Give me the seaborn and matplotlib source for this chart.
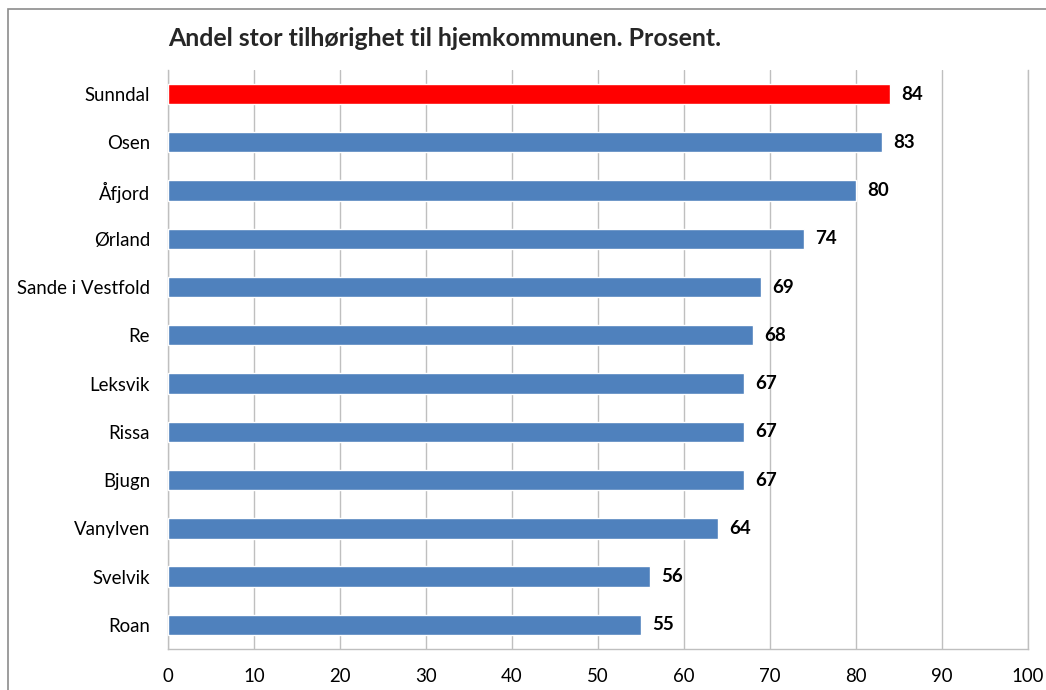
import matplotlib
matplotlib.use("Agg")
import matplotlib.pyplot as plt
import seaborn as sns
import pandas as pd
from matplotlib.patches import Rectangle

kommuner = ["Sunndal", "Osen", "Åfjord", "Ørland", "Sande i Vestfold", "Re",
            "Leksvik", "Rissa", "Bjugn", "Vanylven", "Svelvik", "Roan"]
andel = [84, 83, 80, 74, 69, 68, 67, 67, 67, 64, 56, 55]
farger = ["#FF0000"] + ["#4F81BD"] * (len(kommuner) - 1)
x_ticks = list(range(0, 101, 10))

df = pd.DataFrame({"kommune": kommuner, "andel": andel})

sns.set_theme(style="white")
plt.rcParams["font.family"] = ["Lato", "DejaVu Sans"]

fig = plt.figure(figsize=(10.46, 6.9), dpi=100)
ax = fig.add_axes([0.1606, 0.0594, 0.8222, 0.8392])

sns.barplot(data=df, x="andel", y="kommune", hue="kommune", palette=farger,
            legend=False, width=0.42, saturation=1, ax=ax, zorder=3)

for cont in ax.containers:
    ax.bar_label(cont, padding=8, fontsize=13.5, fontweight="bold",
                 color="#000000")

ax.set_xlim(0, 100)
ax.set_xticks(x_ticks)
ax.set_ylim(len(kommuner) - 0.5, -0.5)
ax.xaxis.grid(True, color="#BFBFBF", linewidth=1, zorder=0)
ax.yaxis.grid(False)
ax.set_xlabel("")
ax.set_ylabel("")
ax.tick_params(axis="both", labelsize=13.4, colors="#000000", length=0)
ax.tick_params(axis="x", pad=14)
ax.tick_params(axis="y", pad=13)
for side in ["left", "bottom", "right"]:
    ax.spines[side].set_color("#BFBFBF")
    ax.spines[side].set_linewidth(1)
ax.spines["top"].set_visible(False)

fig.text(0.1606, 0.944, "Andel stor tilhørighet til hjemkommunen. Prosent.",
         fontsize=17.9, fontweight="bold", ha="left", va="center")

fig.patches.append(Rectangle((8 / 1046, -0.1), 1.2, 0.1 + (690 - 9) / 690,
                             transform=fig.transFigure, fill=False,
                             edgecolor="#8C8C8C", linewidth=1.2))

fig.savefig("out.png", dpi=100)
